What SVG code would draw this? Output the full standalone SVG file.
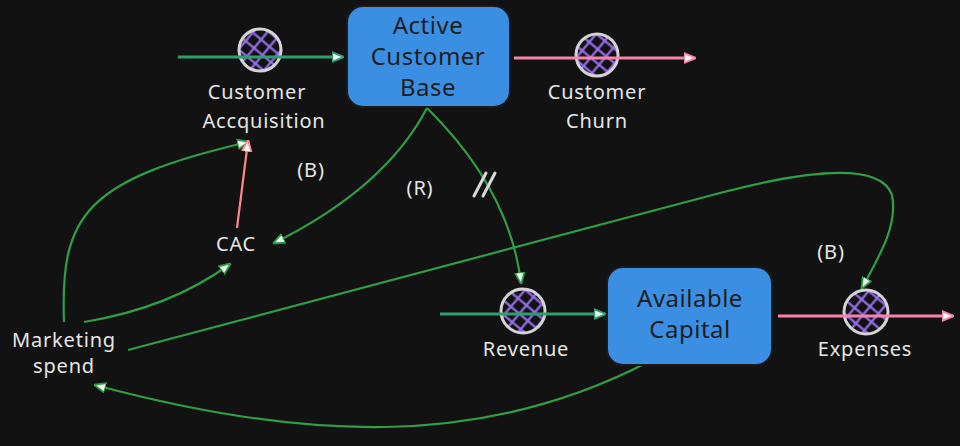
<svg xmlns="http://www.w3.org/2000/svg" width="960" height="446" viewBox="0 0 960 446">
<style>
.lbl{font-family:"Noto Sans","DejaVu Sans",sans-serif;font-size:20px;fill:#e6e6e6;text-anchor:middle;letter-spacing:0.8px}
.box{font-family:"Noto Sans","DejaVu Sans",sans-serif;font-size:24px;fill:#1e1e1e;text-anchor:middle;letter-spacing:0.5px}
.stock{fill:#3b8fe2;stroke:#1a1a1a;stroke-width:2}
.valve{fill:url(#hatch);stroke:#d4d4d4;stroke-width:3}
.flowg{stroke:#2f9e6e;stroke-width:3;fill:none}
.flowp{stroke:#f783ac;stroke-width:3;fill:none}
.lnk{stroke:#2f9e44;stroke-width:2.2;fill:none}
.lnkr{stroke:#ff8787;stroke-width:2.2;fill:none}
</style>
<defs>
<pattern id="hatch" patternUnits="userSpaceOnUse" width="11" height="11" patternTransform="rotate(40)">
<rect width="11" height="11" fill="#121212"/>
<line x1="0" y1="5.5" x2="11" y2="5.5" stroke="#9b6ff2" stroke-width="2.2"/>
<line x1="5.5" y1="0" x2="5.5" y2="11" stroke="#9b6ff2" stroke-width="2.2"/>
</pattern>
<marker id="agm" viewBox="0 0 10 10" refX="9" refY="5" markerWidth="12" markerHeight="12" orient="auto" markerUnits="userSpaceOnUse">
<path d="M0,1 L10,5 L0,9 Z" fill="#ffffff" stroke="#2f9e44" stroke-width="1.6"/>
</marker>
<marker id="at" viewBox="0 0 10 10" refX="9" refY="5" markerWidth="12" markerHeight="12" orient="auto" markerUnits="userSpaceOnUse">
<path d="M0,1 L10,5 L0,9 Z" fill="#ffffff" stroke="#2f9e6e" stroke-width="1.6"/>
</marker>
<marker id="ap" viewBox="0 0 10 10" refX="9" refY="5" markerWidth="12" markerHeight="12" orient="auto" markerUnits="userSpaceOnUse">
<path d="M0,1 L10,5 L0,9 Z" fill="#ffffff" stroke="#f783ac" stroke-width="1.6"/>
</marker>
<marker id="ar" viewBox="0 0 10 10" refX="9" refY="5" markerWidth="12" markerHeight="12" orient="auto" markerUnits="userSpaceOnUse">
<path d="M0,1 L10,5 L0,9 Z" fill="#ffffff" stroke="#ff8787" stroke-width="1.6"/>
</marker>
</defs>
<rect width="960" height="446" fill="#121212"/>

<g id="connectors">
<path class="lnk" d="M427,108 Q385,188 274,243" marker-end="url(#agm)"/>
<path class="lnk" d="M427,108 Q510,190 521,283" marker-end="url(#agm)"/>
<path class="lnk" d="M64,322 C60,215 85,180 248,142" marker-end="url(#agm)"/>
<path class="lnk" d="M84,322 Q170,308 230,264" marker-end="url(#agm)"/>
<path class="lnkr" d="M237,228 L248,141" marker-end="url(#ar)"/>
<path class="lnk" d="M128,350 L720,193 C800,172 880,160 892,195 C898,225 880,255 862,288" marker-end="url(#agm)"/>
<path class="lnk" d="M650,361 C480,450 300,440 95,385" marker-end="url(#agm)"/>
</g>

<g id="flow-acquisition">
<circle class="valve" cx="260" cy="50" r="21"/>
<path class="flowg" d="M178,57 L343,57" marker-end="url(#at)"/>
<text class="lbl" x="257" y="99">Customer</text>
<text class="lbl" x="264" y="128">Accquisition</text>
</g>

<g id="flow-churn">
<circle class="valve" cx="597" cy="55" r="21"/>
<path class="flowp" d="M514,58 L695,58" marker-end="url(#ap)"/>
<text class="lbl" x="597" y="99">Customer</text>
<text class="lbl" x="597" y="128">Churn</text>
</g>

<g id="stock-active">
<rect class="stock" x="347" y="6" width="163" height="101" rx="16"/>
<text class="box" x="428" y="34">Active</text>
<text class="box" x="428" y="65">Customer</text>
<text class="box" x="428" y="96">Base</text>
</g>

<g id="flow-revenue">
<circle class="valve" cx="523" cy="311" r="22"/>
<path class="flowg" d="M440,314 L605,314" marker-end="url(#at)"/>
<text class="lbl" x="526" y="356">Revenue</text>
</g>

<g id="stock-capital">
<rect class="stock" x="607" y="267" width="165" height="98" rx="16"/>
<text class="box" x="690" y="307">Available</text>
<text class="box" x="690" y="338">Capital</text>
</g>

<g id="flow-expenses">
<circle class="valve" cx="866" cy="312" r="22"/>
<path class="flowp" d="M778,316 L953,316" marker-end="url(#ap)"/>
<text class="lbl" x="865" y="356">Expenses</text>
</g>

<g id="cac">
<text class="lbl" x="236" y="251">CAC</text>
</g>
<g id="marketing">
<text class="lbl" x="64" y="347">Marketing</text>
<text class="lbl" x="64" y="373">spend</text>
</g>

<g id="loop-labels">
<text class="lbl" x="311" y="177">(B)</text>
<text class="lbl" x="420" y="195">(R)</text>
<text class="lbl" x="831" y="259">(B)</text>
<path d="M474,196 L486,173 M483,196 L495,173" stroke="#d8d8d8" stroke-width="3" stroke-linecap="round" fill="none"/>
</g>
</svg>
